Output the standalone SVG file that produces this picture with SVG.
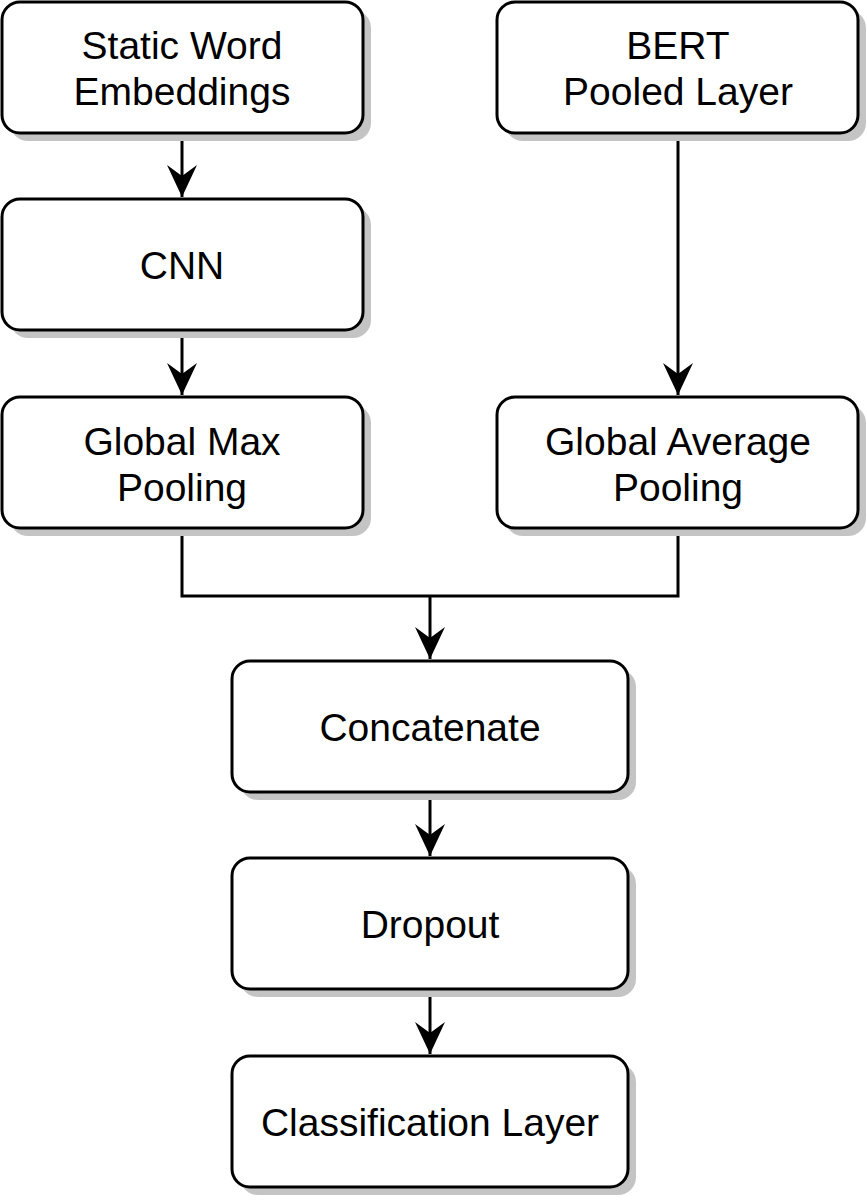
<svg xmlns="http://www.w3.org/2000/svg" width="867" height="1200" viewBox="0 0 867 1200">
<style>
.shadow{fill:#c4c4c4;stroke:none}
.box{fill:#fff;stroke:#000;stroke-width:3}
.lbl{font-family:"Liberation Sans",Arial,sans-serif;font-size:39px;fill:#000;text-anchor:middle}
.edge{fill:none;stroke:#000;stroke-width:3}
</style>
<defs>
<marker id="arr" viewBox="0 0 32 32" refX="32" refY="16" markerWidth="32" markerHeight="32" markerUnits="userSpaceOnUse" orient="auto">
<path d="M32,16 L0,1 L11,16 L0,31 Z" fill="#000"/>
</marker>
</defs>
<rect width="867" height="1200" fill="#fff"/>
<g id="connectors">
<path class="edge" d="M182,133 V197" marker-end="url(#arr)"/>
<path class="edge" d="M182,330 V395" marker-end="url(#arr)"/>
<path class="edge" d="M678,133 V395" marker-end="url(#arr)"/>
<path class="edge" d="M182,528 V596 H678 V528"/>
<path class="edge" d="M430,596 V659" marker-end="url(#arr)"/>
<path class="edge" d="M430,792 V856" marker-end="url(#arr)"/>
<path class="edge" d="M430,989 V1054" marker-end="url(#arr)"/>
</g>
<g id="static">
<rect class="shadow" x="10" y="10" width="361" height="131" rx="18"/>
<rect class="box" x="2" y="2" width="361" height="131" rx="18"/>
<text class="lbl" x="182" y="59">Static Word</text>
<text class="lbl" x="182" y="105">Embeddings</text>
</g>
<g id="bert">
<rect class="shadow" x="505" y="10" width="361" height="131" rx="18"/>
<rect class="box" x="497" y="2" width="361" height="131" rx="18"/>
<text class="lbl" x="678" y="59">BERT</text>
<text class="lbl" x="678" y="105">Pooled Layer</text>
</g>
<g id="cnn">
<rect class="shadow" x="10" y="207" width="361" height="131" rx="18"/>
<rect class="box" x="2" y="199" width="361" height="131" rx="18"/>
<text class="lbl" x="182" y="279">CNN</text>
</g>
<g id="gmax">
<rect class="shadow" x="10" y="405" width="361" height="131" rx="18"/>
<rect class="box" x="2" y="397" width="361" height="131" rx="18"/>
<text class="lbl" x="182" y="455">Global Max</text>
<text class="lbl" x="182" y="501">Pooling</text>
</g>
<g id="gavg">
<rect class="shadow" x="505" y="405" width="361" height="131" rx="18"/>
<rect class="box" x="497" y="397" width="361" height="131" rx="18"/>
<text class="lbl" x="678" y="455">Global Average</text>
<text class="lbl" x="678" y="501">Pooling</text>
</g>
<g id="concat">
<rect class="shadow" x="240" y="669" width="396" height="131" rx="18"/>
<rect class="box" x="232" y="661" width="396" height="131" rx="18"/>
<text class="lbl" x="430" y="741">Concatenate</text>
</g>
<g id="dropout">
<rect class="shadow" x="240" y="866" width="396" height="131" rx="18"/>
<rect class="box" x="232" y="858" width="396" height="131" rx="18"/>
<text class="lbl" x="430" y="938">Dropout</text>
</g>
<g id="classif">
<rect class="shadow" x="240" y="1064" width="396" height="131" rx="18"/>
<rect class="box" x="232" y="1056" width="396" height="131" rx="18"/>
<text class="lbl" x="430" y="1136">Classification Layer</text>
</g>
</svg>
